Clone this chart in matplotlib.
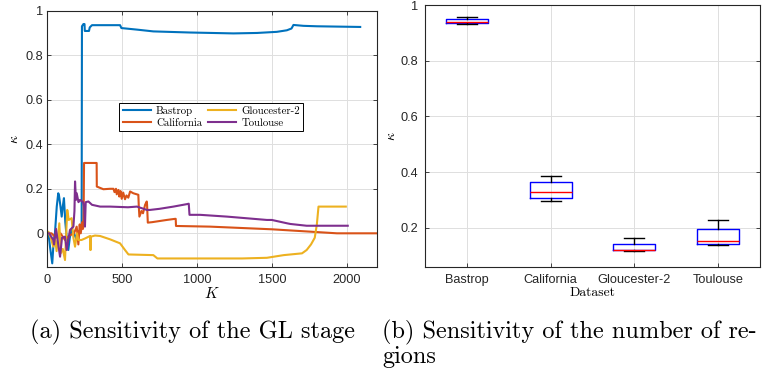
import matplotlib
matplotlib.use("Agg")
import matplotlib.pyplot as plt

plt.rcParams['mathtext.fontset'] = 'cm'
plt.rcParams['font.family'] = ['Liberation Sans', 'DejaVu Sans']

# ---------------- data: (a) sensitivity of the GL stage ----------------
bastrop_k = [0, 9, 20, 35, 45, 53, 65, 75, 80, 90, 98, 105, 113, 122, 131, 142, 152, 164, 180, 198,
             210, 220, 228, 231, 233, 243, 250, 252, 280, 285, 300, 395, 487, 496, 600, 709, 954, 1100,
             1243, 1400, 1532, 1599, 1630, 1643, 1710, 1800, 2088]
bastrop_v = [0.0, 0.005, -0.06, -0.135, -0.03, 0.0, 0.12, 0.18, 0.17, 0.12, 0.075, 0.12, 0.158, 0.05,
             -0.015, -0.075, -0.02, 0.015, 0.0, -0.03, 0.01, 0.007, 0.02, 0.05, 0.93, 0.94, 0.94, 0.909,
             0.909, 0.925, 0.935, 0.935, 0.935, 0.922, 0.915, 0.907, 0.902, 0.9, 0.898, 0.9, 0.905, 0.912,
             0.92, 0.936, 0.932, 0.93, 0.927]

california_k = [0, 30, 60, 90, 120, 150, 180, 198, 209, 218, 225, 235, 240, 244, 247, 331, 332, 376,
                420, 443, 450, 460, 465, 476, 482, 490, 498, 508, 520, 530, 542, 554, 575, 609, 612, 616,
                630, 640, 654, 665, 667, 672, 700, 798, 854, 858, 860, 1087, 1500, 1933, 2200]
california_v = [0.0, 0.0, -0.02, 0.0, -0.03, -0.01, 0.0, 0.03, -0.05, 0.04, 0.0, 0.05, 0.02, 0.07, 0.316,
                0.316, 0.21, 0.198, 0.2, 0.2, 0.185, 0.2, 0.175, 0.195, 0.165, 0.19, 0.155, 0.183, 0.153,
                0.17, 0.16, 0.188, 0.18, 0.173, 0.12, 0.075, 0.1, 0.09, 0.128, 0.143, 0.13, 0.048, 0.05,
                0.06, 0.065, 0.065, 0.033, 0.03, 0.018, 0.0, 0.0]

gloucester_k = [0, 9, 25, 42, 55, 64, 82, 91, 105, 120, 128, 135, 145, 164, 176, 187, 200, 209, 216, 230,
                254, 287, 289, 291, 293, 320, 354, 420, 487, 520, 543, 709, 736, 1000, 1300, 1466, 1578,
                1700, 1731, 1760, 1785, 1799, 1810, 1992]
gloucester_v = [0.0, 0.007, -0.02, -0.06, -0.03, -0.08, 0.045, -0.09, -0.07, -0.12, 0.0, 0.105, 0.06,
                0.068, -0.02, -0.06, 0.0, -0.03, -0.03, -0.03, -0.023, -0.012, -0.075, -0.075, -0.015,
                -0.01, -0.012, -0.027, -0.045, -0.075, -0.095, -0.098, -0.113, -0.113, -0.113, -0.11,
                -0.098, -0.09, -0.075, -0.05, -0.02, 0.04, 0.12, 0.12]

toulouse_k = [0, 15, 42, 47, 60, 75, 87, 100, 120, 131, 153, 176, 183, 187, 193, 198, 210, 220, 240, 248,
              253, 258, 276, 300, 354, 420, 540, 600, 666, 686, 750, 843, 932, 945, 950, 1021, 1200, 1466,
              1499, 1600, 1622, 1731, 2005]
toulouse_v = [0.0, 0.0, -0.03, -0.05, 0.02, -0.05, -0.105, -0.02, -0.015, -0.075, 0.015, 0.03, 0.1, 0.233,
              0.15, 0.18, 0.14, 0.15, 0.14, 0.12, 0.03, 0.14, 0.143, 0.128, 0.12, 0.12, 0.117, 0.12, 0.105,
              0.105, 0.11, 0.12, 0.131, 0.133, 0.083, 0.083, 0.075, 0.06, 0.06, 0.045, 0.042, 0.034, 0.034]

series_names = ['Bastrop', 'California', 'Gloucester-2', 'Toulouse']
series_colors = ['#0072BD', '#D95319', '#EDB120', '#7E2F8E']

# ---------------- data: (b) sensitivity of the number of regions ----------------
box_labels = ['Bastrop', 'California', 'Gloucester-2', 'Toulouse']
box_whislo = [0.932, 0.296, 0.118, 0.139]
box_q1 = [0.935, 0.306, 0.119, 0.141]
box_med = [0.939, 0.330, 0.121, 0.154]
box_q3 = [0.948, 0.363, 0.141, 0.195]
box_whishi = [0.958, 0.385, 0.163, 0.228]

W, H = 771, 377
fig = plt.figure(figsize=(W / 100, H / 100), dpi=100)

edge = '#262626'
gridc = '#DFDFDF'
tick_fs = 9.2

def style(ax, ypad):
    for s in ax.spines.values():
        s.set_color(edge)
        s.set_linewidth(0.8)
    ax.tick_params(direction='in', length=3, width=0.6, colors=edge, labelsize=tick_fs,
                   top=True, right=True, labelcolor='#262626')
    ax.tick_params(axis='x', pad=5)
    ax.tick_params(axis='y', pad=ypad)
    ax.grid(True, color=gridc, linewidth=0.7)
    ax.set_axisbelow(True)

# (a)
ax1 = fig.add_axes([47 / W, 1 - 266.7 / H, 330 / W, 256 / H])
style(ax1, 2.7)
data = [(bastrop_k, bastrop_v), (california_k, california_v), (gloucester_k, gloucester_v),
        (toulouse_k, toulouse_v)]
for (k, v), name, c in zip(data, series_names, series_colors):
    ax1.plot(k, v, color=c, linewidth=1.5, label=name)
ax1.set_xlim(0, 2200)
ax1.set_ylim(-0.15, 1)
ax1.set_xticks([0, 500, 1000, 1500, 2000])
ax1.set_yticks([0, 0.2, 0.4, 0.6, 0.8, 1])
ax1.set_yticklabels(['0', '0.2', '0.4', '0.6', '0.8', '1'])
ax1.set_xlabel(r'$K$', fontsize=11, labelpad=0)
ax1.set_ylabel(r'$\kappa$', fontsize=10, labelpad=3)
leg = ax1.legend(ncol=2, loc='upper left', bbox_to_anchor=(0.219, 0.641), borderaxespad=0,
                 fancybox=False, edgecolor='black', framealpha=1, handlelength=2.6,
                 handletextpad=0.5, columnspacing=0.5, borderpad=0.3, labelspacing=0.2,
                 prop={'family': 'cmr10', 'size': 7.8})
leg.get_frame().set_linewidth(0.7)

# (b)
ax2 = fig.add_axes([425 / W, 1 - 266.7 / H, 335 / W, 261.7 / H])
style(ax2, 4.8)
stats = []
for lab, lo, q1, med, q3, hi in zip(box_labels, box_whislo, box_q1, box_med, box_q3, box_whishi):
    stats.append(dict(label=lab, whislo=lo, q1=q1, med=med, q3=q3, whishi=hi, fliers=[]))
ax2.bxp(stats, positions=[1, 2, 3, 4], widths=0.5, showfliers=False,
        boxprops=dict(color='#0000FF', linewidth=1.0),
        medianprops=dict(color='#FF0000', linewidth=1.0),
        whiskerprops=dict(color='black', linewidth=1.0),
        capprops=dict(color='black', linewidth=1.0),
        capwidths=0.24)
ax2.set_xlim(0.5, 4.5)
ax2.set_ylim(0.06, 1)
ax2.set_yticks([0.2, 0.4, 0.6, 0.8, 1])
ax2.set_yticklabels(['0.2', '0.4', '0.6', '0.8', '1'])
ax2.set_xticks([1, 2, 3, 4])
ax2.set_xticklabels(box_labels)
ax2.tick_params(axis='x', top=False)
ax2.set_xlabel('Dataset', family='cmr10', fontsize=9.8, labelpad=1)
ax2.set_ylabel(r'$\kappa$', fontsize=10, labelpad=2)

# captions
cap_fs = 17.5
fig.text(30 / W, 1 - 338.3 / H, '(a) Sensitivity of the GL stage', family='cmr10', fontsize=cap_fs,
         ha='left', va='baseline')
fig.text(382 / W, 1 - 338.3 / H, '(b) Sensitivity of the number of re-', family='cmr10',
         fontsize=cap_fs, ha='left', va='baseline')
fig.text(382 / W, 1 - 363.3 / H, 'gions', family='cmr10', fontsize=cap_fs, ha='left', va='baseline')

fig.savefig('out.png', dpi=100)
